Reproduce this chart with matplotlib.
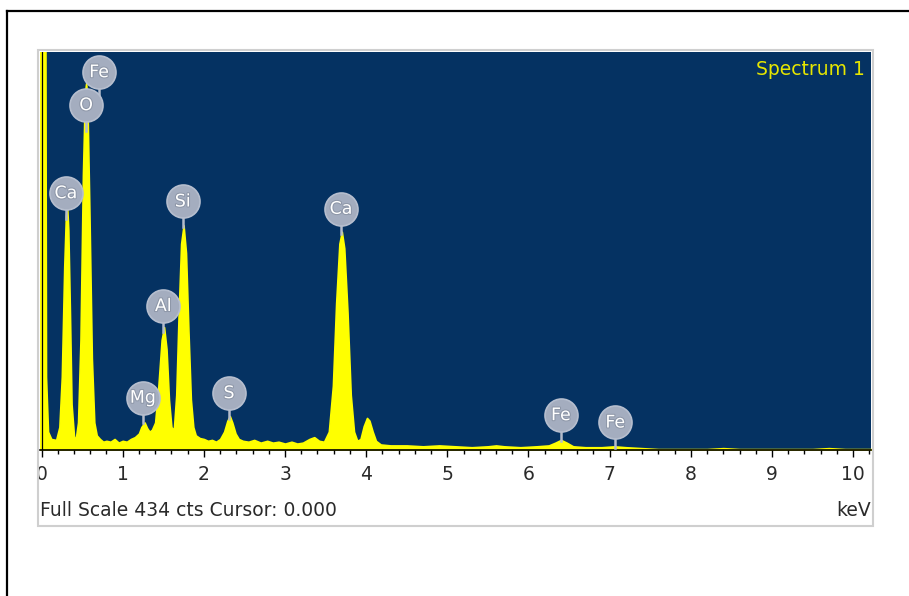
import numpy as np
import matplotlib
matplotlib.use("Agg")
import matplotlib.pyplot as plt
import matplotlib.patheffects as pe
from matplotlib.lines import Line2D
from matplotlib.patches import Rectangle
from matplotlib.transforms import Bbox, TransformedBbox

plt.rcParams['font.family'] = ['DejaVu Sans']

# spectrum (keV, counts)
energy = [-0.03, 0.00, 0.045, 0.055, 0.08, 0.12, 0.18, 0.22, 0.25, 0.28, 0.30, 0.315, 0.33, 0.35,
          0.37, 0.40, 0.42, 0.45, 0.48, 0.51, 0.535, 0.55, 0.565, 0.59, 0.62, 0.65, 0.68, 0.72,
          0.76, 0.80, 0.85, 0.90, 0.95, 1.00, 1.05, 1.10, 1.15, 1.20, 1.23, 1.27, 1.30, 1.33,
          1.36, 1.40, 1.44, 1.48, 1.51, 1.54, 1.57, 1.60, 1.63, 1.66, 1.69, 1.72, 1.75, 1.78,
          1.81, 1.84, 1.87, 1.90, 1.95, 2.00, 2.05, 2.10, 2.15, 2.20, 2.25, 2.29, 2.32, 2.35,
          2.39, 2.43, 2.48, 2.55, 2.62, 2.70, 2.78, 2.85, 2.92, 3.00, 3.08, 3.15, 3.22, 3.30,
          3.36, 3.42, 3.48, 3.54, 3.59, 3.63, 3.67, 3.70, 3.73, 3.77, 3.81, 3.85, 3.89, 3.93,
          3.97, 4.01, 4.04, 4.08, 4.12, 4.18, 4.30, 4.50, 4.70, 4.90, 5.10, 5.30, 5.50, 5.60,
          5.70, 5.90, 6.10, 6.25, 6.33, 6.40, 6.47, 6.55, 6.70, 6.90, 7.06, 7.20, 7.40, 7.60,
          7.80, 8.00, 8.20, 8.40, 8.60, 8.80, 9.00, 9.20, 9.50, 9.70, 9.90, 10.25]
counts = [600, 600, 600, 80, 20, 12, 11, 25, 80, 200, 255, 267, 240, 150,
          50, 15, 11, 30, 120, 300, 390, 400, 380, 260, 100, 30, 16, 12,
          9, 10, 9, 12, 8, 10, 9, 12, 14, 18, 25, 30, 24, 20,
          22, 30, 70, 120, 134, 110, 55, 25, 22, 60, 150, 225, 245, 215,
          130, 55, 25, 16, 13, 12, 10, 11, 9, 12, 20, 32, 37, 30,
          18, 12, 10, 9, 11, 8, 10, 8, 9, 7, 9, 7, 8, 12,
          14, 10, 9, 20, 70, 160, 225, 238, 220, 150, 60, 20, 10, 12,
          26, 35, 32, 20, 10, 6, 5, 5, 4, 5, 4, 3, 4, 5,
          4, 3, 4, 5, 8, 11, 8, 4, 3, 3, 4, 3, 2, 1,
          1, 1, 1, 2, 1, 1, 1, 1, 1, 2, 1, 1]

# peak labels
label_names = ['Fe', 'O', 'Ca', 'Si', 'Al', 'Mg', 'S', 'Ca', 'Fe', 'Fe']
label_keV = [0.71, 0.55, 0.30, 1.74, 1.50, 1.25, 2.31, 3.69, 6.40, 7.07]
label_cts = [412, 376, 280, 271, 157, 57, 62, 263, 38, 30]

full_scale = 434
ticks = [0, 1, 2, 3, 4, 5, 6, 7, 8, 9, 10]

W, H = 909, 596
fig = plt.figure(figsize=(W / 100, H / 100), dpi=100)

def fx(px):
    return px / W

def fy(py):
    return 1 - py / H

# outer frame and gray panel
fig.add_artist(Line2D([fx(7), 1], [fy(11), fy(11)], color='black', lw=1.6))
fig.add_artist(Line2D([fx(7), fx(7)], [fy(11), 0], color='black', lw=1.6))
fig.add_artist(Rectangle((fx(38), fy(526)), fx(873 - 38), (526 - 50) / H,
                         fill=False, edgecolor='#cfcfcf', lw=1.5))

ax = fig.add_axes([fx(39.5), fy(450), fx(871 - 39.5), (450 - 52) / H])
ax.set_facecolor('#053262')
ax.fill_between(energy, counts, 0, color='#ffff00', lw=1.2, edgecolor='#ffff00')
ax.axvline(0, color='black', lw=0.9)
ax.set_xlim(-0.025, 10.22)
ax.set_ylim(0, full_scale)

for s in ['top', 'left', 'right']:
    ax.spines[s].set_visible(False)
ax.spines['bottom'].set_color('black')
ax.spines['bottom'].set_linewidth(1.2)
ax.set_yticks([])
ax.set_xticks(ticks)
ax.set_xticklabels([str(t) for t in ticks])
ax.set_xticks(np.arange(0, 10.21, 0.2), minor=True)
ax.tick_params(axis='x', which='major', length=5, width=1, direction='out',
               labelsize=13.5, pad=6, labelcolor='#2a2a2a')
ax.tick_params(axis='x', which='minor', length=3, width=1, direction='out')

# clip the "0" label at the panel edge like the original
clip = TransformedBbox(Bbox.from_extents(fx(39), 0, 1, 1), fig.transFigure)
lbl0 = ax.get_xticklabels()[0]
lbl0.set_clip_on(True)
lbl0.set_clip_box(clip)

# badges with short stems
badge_px = 33
for name, e, c in zip(label_names, label_keV, label_cts):
    ax.plot([e, e], [c, c - 28], color='#b4bccb', lw=1.8, zorder=4, clip_on=False)
    ax.scatter([e], [c], s=(badge_px * 0.72) ** 2, color='#a4adbf', edgecolors='#b6bece',
               linewidths=1.2, zorder=5, clip_on=False)
    ax.text(e, c, name, color='white', fontsize=12.5, ha='center', va='center', zorder=6,
            path_effects=[pe.withStroke(linewidth=1.5, foreground='#8e97a8')])

ax.text(0.993, 0.955, 'Spectrum 1', transform=ax.transAxes, ha='right', va='center',
        color='#e6e600', fontsize=13.5)

fig.text(fx(40), fy(510), 'Full Scale 434 cts Cursor: 0.000', ha='left', va='center',
         fontsize=13.5, color='#2a2a2a')
fig.text(fx(871), fy(511), 'keV', ha='right', va='center', fontsize=13.5, color='#2a2a2a')

fig.savefig('out.png', dpi=100)
